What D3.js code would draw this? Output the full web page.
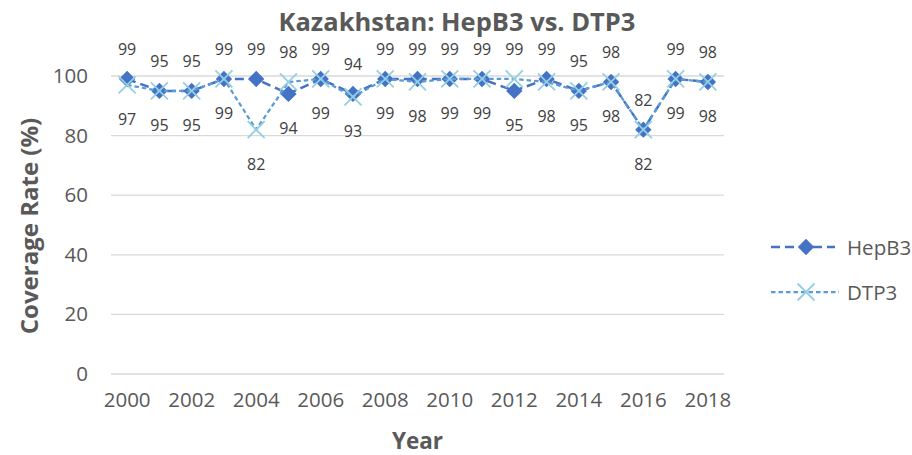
<!DOCTYPE html>
<html>
<head>
<meta charset="utf-8">
<script src="https://cdn.jsdelivr.net/npm/d3@7"></script>
<style>
  html, body { margin: 0; padding: 0; background: #fff; }
  svg { display: block; font-family: "Open Sans", "Noto Sans", sans-serif; }
</style>
</head>
<body>
<svg id="chart" width="912" height="455"></svg>
<script>
const years = [2000,2001,2002,2003,2004,2005,2006,2007,2008,2009,2010,2011,2012,2013,2014,2015,2016,2017,2018];
const hepB3 = [99,95,95,99,99,94,99,94,99,99,99,99,95,99,95,98,82,99,98];
const dtp3  = [97,95,95,99,82,98,99,93,99,98,99,99,99,98,95,98,82,99,98];
const yTicks = [0,20,40,60,80,100];
const xTickLabels = years.filter((d,i) => i % 2 === 0);
const seriesNames = ["HepB3","DTP3"];

const svg = d3.select("#chart");
const plot = {left:111, right:724, top:76, bottom:374};
const textColor = "#595959";
const ff = "'Open Sans', 'Noto Sans', sans-serif";

const x = d3.scaleBand().domain(years).range([plot.left, plot.right]);
const xc = d => x(d) + x.bandwidth()/2;
const y = d3.scaleLinear().domain([0,100]).range([plot.bottom, plot.top]);

// gridlines
svg.append("g").selectAll("line").data(yTicks).join("line")
  .attr("x1", plot.left).attr("x2", plot.right)
  .attr("y1", d => y(d)).attr("y2", d => y(d))
  .attr("stroke", "#d9d9d9").attr("stroke-width", 1.3);

// y axis labels
const yAxis = svg.append("g").attr("transform", `translate(${plot.left - 23},0)`)
  .call(d3.axisLeft(y).tickValues(yTicks).tickSize(0).tickPadding(0));
yAxis.select(".domain").remove();
yAxis.selectAll("text").attr("fill", textColor).style("font-size", "20.5px")
  .attr("font-family", ff);

// x axis labels
const xAxis = svg.append("g").attr("transform", `translate(0,${plot.bottom + 18})`)
  .call(d3.axisBottom(x).tickValues(xTickLabels).tickSize(0).tickPadding(0));
xAxis.select(".domain").remove();
xAxis.selectAll("text").attr("fill", textColor).style("font-size", "20.5px")
  .attr("font-family", ff);

// title
svg.append("text").attr("x", 457).attr("y", 31).attr("text-anchor", "middle")
  .attr("fill", textColor).style("font-size", "25.5px").style("font-weight", "bold")
  .text("Kazakhstan: HepB3 vs. DTP3");

// axis titles
svg.append("text").attr("x", (plot.left + plot.right)/2).attr("y", 449).attr("text-anchor", "middle")
  .attr("fill", textColor).style("font-size", "22.5px").style("font-weight", "bold").text("Year");
svg.append("text").attr("transform", `translate(38,226) rotate(-90)`)
  .attr("text-anchor", "middle").attr("fill", textColor)
  .style("font-size", "24px").style("font-weight", "bold").text("Coverage Rate (%)");

const line = d3.line().x((d,i) => xc(years[i])).y(d => y(d));
const hepColor = "#4472C4", dtpLine = "#5B9BD5", dtpMarker = "#92CFE3";

// HepB3 series
svg.append("path").datum(hepB3).attr("d", line).attr("fill", "none")
  .attr("stroke", hepColor).attr("stroke-width", 2.5).attr("stroke-dasharray", "9,5");
const diamond = d3.symbol().type(d3.symbolDiamond2).size(170);
svg.append("g").selectAll("path").data(hepB3).join("path")
  .attr("d", diamond).attr("fill", hepColor)
  .attr("transform", (d,i) => `translate(${xc(years[i])},${y(d)})`);

// DTP3 series
svg.append("path").datum(dtp3).attr("d", line).attr("fill", "none")
  .attr("stroke", dtpLine).attr("stroke-width", 2.25).attr("stroke-dasharray", "4.5,3");
const xs = 8.5;
const xg = svg.append("g").selectAll("g").data(dtp3).join("g")
  .attr("transform", (d,i) => `translate(${xc(years[i])},${y(d)})`);
xg.append("line").attr("x1", -xs).attr("y1", -xs).attr("x2", xs).attr("y2", xs)
  .attr("stroke", dtpMarker).attr("stroke-width", 1.8);
xg.append("line").attr("x1", -xs).attr("y1", xs).attr("x2", xs).attr("y2", -xs)
  .attr("stroke", dtpMarker).attr("stroke-width", 1.8);

// data labels: higher value above, lower below (HepB3 above on tie)
const labels = [];
years.forEach((yr,i) => {
  const h = hepB3[i], t = dtp3[i];
  const hepAbove = h >= t;
  labels.push({yr, v:h, above:hepAbove});
  labels.push({yr, v:t, above:!hepAbove});
});
svg.append("g").selectAll("text").data(labels).join("text")
  .attr("x", d => xc(d.yr))
  .attr("y", d => d.above ? y(d.v) - 24 : y(d.v) + 40)
  .attr("text-anchor", "middle").attr("fill", "#404040").style("font-size", "16px")
  .text(d => d.v);

// legend
const legend = svg.append("g");
const lx1 = 771, lx2 = 835, lmid = 806;
const ly1 = 247, ly2 = 292;
legend.append("line").attr("x1", lx1).attr("x2", lx2).attr("y1", ly1).attr("y2", ly1)
  .attr("stroke", hepColor).attr("stroke-width", 2.5).attr("stroke-dasharray", "9,5");
legend.append("path").attr("d", diamond).attr("fill", hepColor)
  .attr("transform", `translate(${lmid},${ly1})`);
legend.append("text").attr("x", 847).attr("y", ly1 + 7.5).attr("fill", textColor)
  .style("font-size", "20.5px").text(seriesNames[0]);
legend.append("line").attr("x1", lx1).attr("x2", lx2 + 4).attr("y1", ly2).attr("y2", ly2)
  .attr("stroke", dtpLine).attr("stroke-width", 2.25).attr("stroke-dasharray", "4.5,3");
const lxg = legend.append("g").attr("transform", `translate(${lmid},${ly2})`);
lxg.append("line").attr("x1", -xs).attr("y1", -xs).attr("x2", xs).attr("y2", xs)
  .attr("stroke", dtpMarker).attr("stroke-width", 1.8);
lxg.append("line").attr("x1", -xs).attr("y1", xs).attr("x2", xs).attr("y2", -xs)
  .attr("stroke", dtpMarker).attr("stroke-width", 1.8);
legend.append("text").attr("x", 847).attr("y", ly2 + 7.5).attr("fill", textColor)
  .style("font-size", "20.5px").text(seriesNames[1]);
</script>
</body>
</html>
